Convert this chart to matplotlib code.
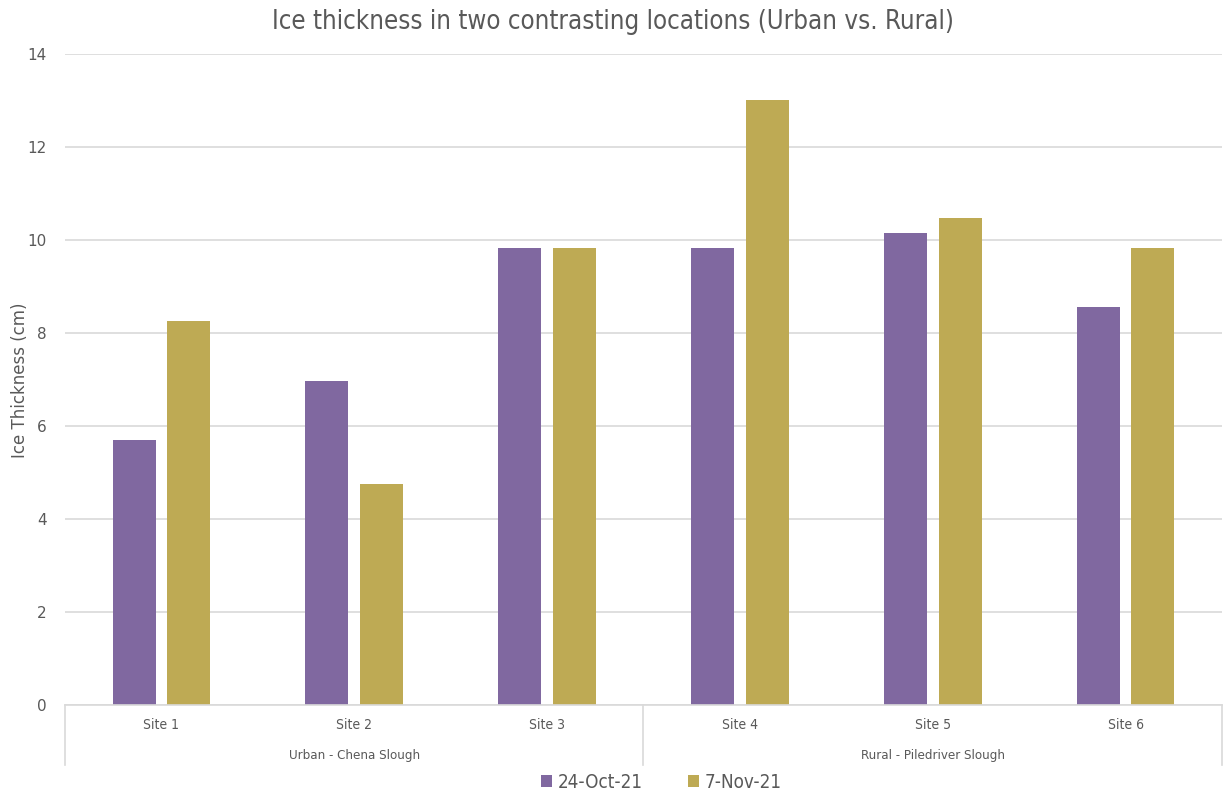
import numpy as np
import matplotlib
matplotlib.use("Agg")
import matplotlib.pyplot as plt

sites = ["Site 1", "Site 2", "Site 3", "Site 4", "Site 5", "Site 6"]
groups = ["Urban - Chena Slough", "Rural - Piledriver Slough"]
group_sizes = [3, 3]
oct24 = [5.70, 6.97, 9.83, 9.83, 10.15, 8.56]
nov7 = [8.26, 4.75, 9.83, 13.01, 10.47, 9.83]
series_names = ["24-Oct-21", "7-Nov-21"]

purple = "#8068A0"
gold = "#BEAA54"
grey_txt = "#595959"
grid_c = "#d9d9d9"

fig = plt.figure(figsize=(12.25, 7.94), dpi=100)
ax = fig.add_axes([65 / 1225, 1 - 705 / 794, 1157 / 1225, 651 / 794])

x = np.arange(len(sites))
w = 0.223
off = 0.142
ax.bar(x - off, oct24, w, color=purple, label=series_names[0], zorder=2)
ax.bar(x + off, nov7, w, color=gold, label=series_names[1], zorder=2)

ax.set_xlim(-0.5, len(sites) - 0.5)
ax.set_ylim(0, 14)
ax.set_yticks(range(0, 15, 2))
ax.yaxis.grid(True, color=grid_c, linewidth=1.2, zorder=0)
ax.set_axisbelow(True)
for s in ["top", "right", "left"]:
    ax.spines[s].set_visible(False)
ax.spines["bottom"].set_color(grid_c)
ax.spines["bottom"].set_linewidth(1.2)
ax.tick_params(axis="y", length=0, pad=13, labelcolor=grey_txt, labelsize=11)
ax.set_xticks([])
fig.text(20 / 1225, 1 - 380 / 794, "Ice Thickness (cm)", rotation=90,
         ha="center", va="center", color=grey_txt, fontsize=12)

# multi-level category axis
trans = ax.get_xaxis_transform()
h = 651.0
bounds = np.concatenate([[0], np.cumsum(group_sizes)]) - 0.5
for b in bounds:
    ax.plot([b, b], [0, -60 / h], transform=trans, color=grid_c,
            linewidth=1.2, clip_on=False)
for i, s in enumerate(sites):
    ax.text(i, -20 / h, s, transform=trans, ha="center", va="center",
            fontsize=10, color=grey_txt, fontstretch="condensed")
for g, lo, hi in zip(groups, bounds[:-1], bounds[1:]):
    ax.text((lo + hi) / 2, -50 / h, g, transform=trans, ha="center",
            va="center", fontsize=9.5, color=grey_txt, fontstretch="condensed")

fig.text(0.5, 1 - 22 / 794, "Ice thickness in two contrasting locations (Urban vs. Rural)",
         ha="center", va="center", fontsize=18.5, color=grey_txt,
         fontstretch="condensed")

leg = fig.legend(loc="center", bbox_to_anchor=(0.54, 1 - 782 / 794), ncol=2,
                 frameon=False, handlelength=0.6, handleheight=0.6,
                 handletextpad=0.3, columnspacing=2.4,
                 prop={"size": 13.5, "stretch": "condensed"})
for t in leg.get_texts():
    t.set_color(grey_txt)

fig.savefig("out.png", dpi=100, facecolor="white")
